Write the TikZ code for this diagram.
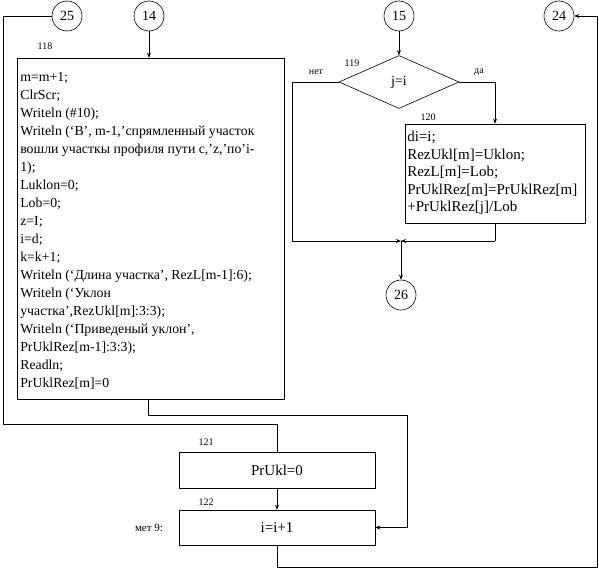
\documentclass[tikz,border=0pt]{standalone}
\usepackage{fontspec}
\setmainfont{Liberation Serif}
\usetikzlibrary{arrows.meta,shapes.geometric}
\begin{document}
\begin{tikzpicture}[x=1pt,y=-1pt,
  line width=0.6pt,
  arr/.style={-{Stealth[length=5pt,width=4pt]}},
  conncircle/.style={circle,draw,minimum size=30pt,inner sep=0pt,font=\fontsize{14}{16}\selectfont},
  procbox/.style={rectangle,draw,inner sep=0pt},
  decbox/.style={diamond,draw,inner sep=0pt,font=\fontsize{14}{16}\selectfont},
  lbl/.style={font=\fontsize{10}{12}\selectfont,inner sep=0pt},
  bodytext/.style={font=\fontsize{13.8}{18}\selectfont,align=left,inner sep=0pt,anchor=north west},
  boxtext/.style={font=\fontsize{15}{17}\selectfont,inner sep=0pt}]
\useasboundingbox (0,0) rectangle (599,570);

% connectors (circles)
\node[conncircle] (c25) at (67,16) {25};
\node[conncircle] (c14) at (149,16) {14};
\node[conncircle] (c15) at (399,16) {15};
\node[conncircle] (c24) at (559,16) {24};
\node[conncircle] (c26) at (401,295) {26};

% box 118
\node[procbox,minimum width=267pt,minimum height=341pt] (b118) at (150.5,228.5) {};
\node[lbl] (l118) at (45,46) {118};
\node[bodytext] (t118) at (20,72) {m=m+1;\\
ClrScr;\\
Writeln (\#10);\\
Writeln (‘В’, m-1,’спрямленный участок\\
вошли участкы профиля пути с,’z,’по’i-\\
1);\\
Luklon=0;\\
Lob=0;\\
z=I;\\
i=d;\\
k=k+1;\\
Writeln (‘Длина участка’, RezL[m-1]:6);\\
Writeln (‘Уклон\\
участка’,RezUkl[m]:3:3);\\
Writeln (‘Приведеный уклон’,\\
PrUklRez[m-1]:3:3);\\
Readln;\\
PrUklRez[m]=0};

% decision 119
\node[decbox,minimum width=120pt,minimum height=53pt] (d119) at (399,82) {j=i};
\node[lbl] (l119) at (352,63) {119};
\node[lbl] (lno) at (316,72) {нет};
\node[lbl] (lyes) at (479,72) {да};

% box 120
\node[procbox,minimum width=180pt,minimum height=99pt] (b120) at (495,173.5) {};
\node[lbl] (l120) at (428,117) {120};
\node[bodytext,font=\fontsize{15}{17.5}\selectfont] (t120) at (407,131) {di=i;\\
RezUkl[m]=Uklon;\\
RezL[m]=Lob;\\
PrUklRez[m]=PrUklRez[m]\\
+PrUklRez[j]/Lob};

% boxes 121, 122
\node[procbox,boxtext,minimum width=196pt,minimum height=36pt] (b121) at (277,470) {PrUkl=0};
\node[lbl] (l121) at (206,442) {121};
\node[procbox,boxtext,minimum width=196pt,minimum height=35pt] (b122) at (277,527.5) {i=i+1};
\node[lbl] (l122) at (206,502) {122};
\node[lbl,font=\fontsize{11}{12}\selectfont] (lmet) at (149,528) {мет 9:};

% junction
\coordinate (jn) at (401,241);

% connector lines
\draw[arr] (c14) -- (c14 |- b118.north);
\draw[arr] (c15) -- (d119.north);
\draw (d119.west) -- (292,82) -- (292,241) coordinate (jl);
\draw[arr] (jl) -- (jn);
\draw (d119.east) -- (495,82) coordinate (dr);
\draw[arr] (dr) -- (b120.north);
\draw (b120.south) -- (495,241) coordinate (jr);
\draw[arr] (jr) -- (jn);
\draw[arr] (jn) -- (c26.north);

\draw (c25.west) -- (3,16) -- (3,424) -- (277,424) -- (b121.north);
\draw[arr] (b121.south) -- (b122.north);
\draw (148,399.5) coordinate (b118s) -- (148,415) -- (407,415) -- (407,527.5) coordinate (rr);
\draw[arr] (rr) -- (b122.east);
\draw (b122.south) -- (277,567) -- (597,567) -- (597,16) coordinate (rt);
\draw[arr] (rt) -- (c24.east);
\end{tikzpicture}
\end{document}
